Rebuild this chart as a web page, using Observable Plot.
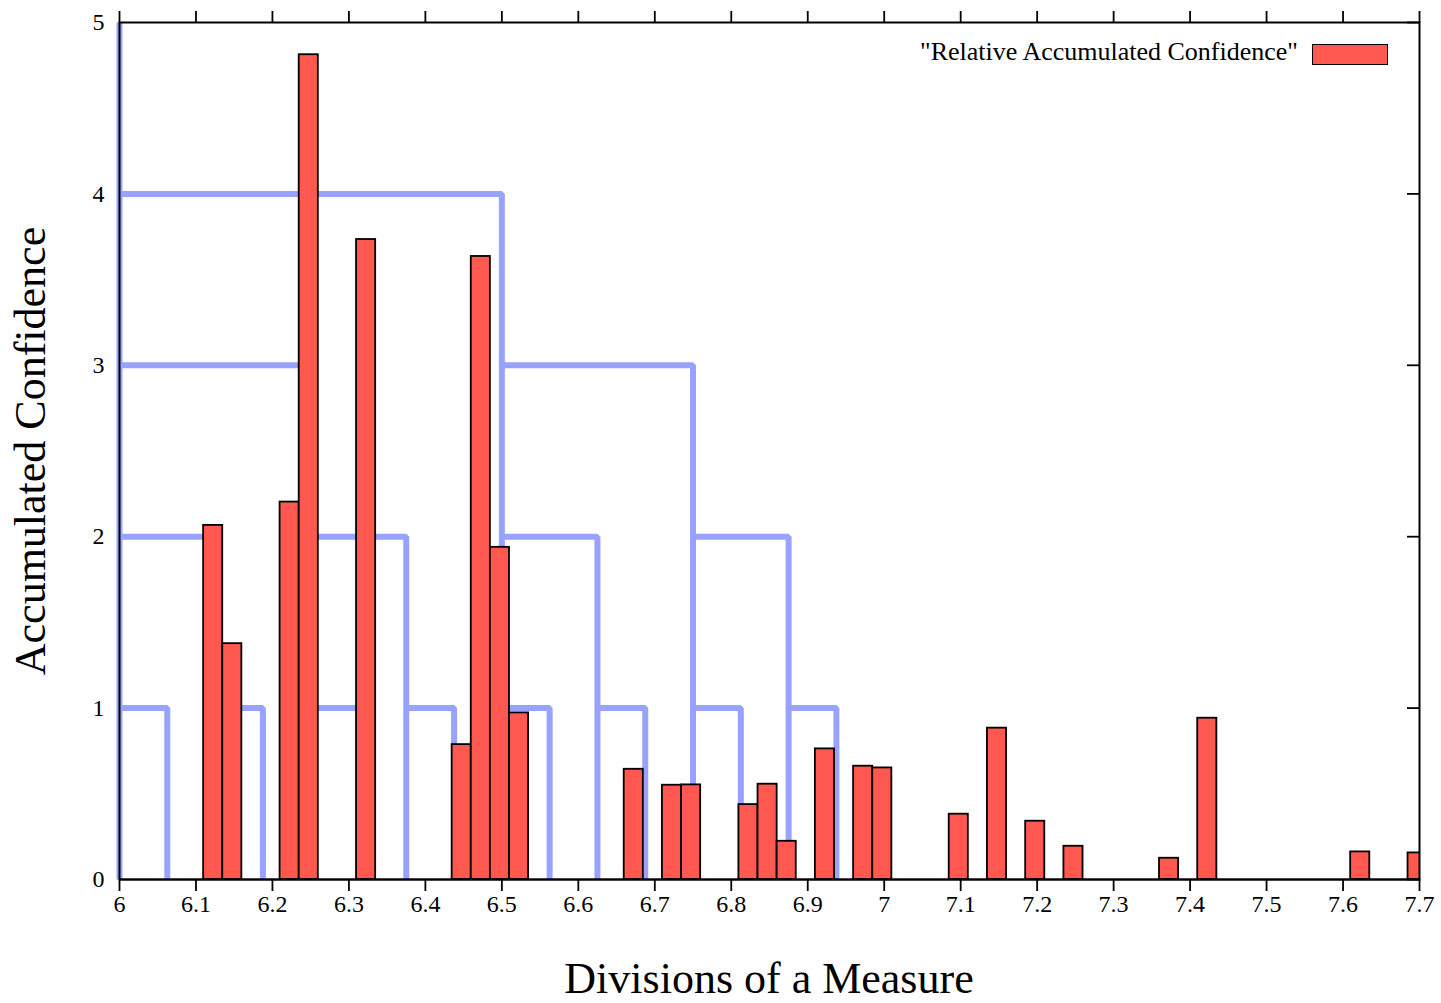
<!DOCTYPE html>
<html>
<head>
<meta charset="utf-8">
<script src="https://cdn.jsdelivr.net/npm/d3@7"></script>
<script src="https://cdn.jsdelivr.net/npm/@observablehq/plot@0.6"></script>
<style>
  body { margin: 0; background: #fff; }
  #wrap { position: relative; width: 1441px; height: 1003px; font-family: "Liberation Serif", "Times New Roman", serif; color: #000; overflow: hidden; }
  #wrap svg { position: absolute; left: 0; top: 0; }
  .lbl { position: absolute; white-space: nowrap; }
</style>
</head>
<body>
<div id="wrap"></div>
<script>
// ---- data ----
const binStart = [6.11, 6.135, 6.21, 6.235, 6.31, 6.435, 6.46, 6.485, 6.51, 6.66, 6.71, 6.735, 6.81, 6.835, 6.86, 6.91, 6.96, 6.985, 7.085, 7.135, 7.185, 7.235, 7.36, 7.41, 7.61, 7.685];
const confidence = [2.066, 1.376, 2.202, 4.812, 3.734, 0.787, 3.635, 1.938, 0.972, 0.643, 0.550, 0.552, 0.437, 0.556, 0.223, 0.762, 0.661, 0.651, 0.381, 0.883, 0.340, 0.194, 0.124, 0.941, 0.161, 0.155];
const binWidth = 0.025;

// metrical grid levels (blue)
const levelValue = [5, 4, 3, 3, 2, 2, 2, 2, 1, 1, 1, 1, 1, 1, 1, 1];
const levelStart = [6, 6, 6, 6.5, 6, 6.25, 6.5, 6.75, 6, 6.125, 6.25, 6.375, 6.5, 6.625, 6.75, 6.875];
const levelEnd   = [6, 6.5, 6.25, 6.75, 6.125, 6.375, 6.625, 6.875, 6.0625, 6.1875, 6.3125, 6.4375, 6.5625, 6.6875, 6.8125, 6.9375];

const xTicks = [6, 6.1, 6.2, 6.3, 6.4, 6.5, 6.6, 6.7, 6.8, 6.9, 7, 7.1, 7.2, 7.3, 7.4, 7.5, 7.6, 7.7];
const yTicks = [0, 1, 2, 3, 4, 5];
const xLabel = "Divisions of a Measure";
const yLabel = "Accumulated Confidence";
const legendLabel = "\"Relative Accumulated Confidence\"";

const barColor = "#ff5850";
const gridColor = "#98a2ff";

// ---- tables ----
const bars = binStart.map((x, i) => ({x1: x, x2: x + binWidth, y: confidence[i]}));
const blue = levelValue.flatMap((v, i) => [
  {id: i, x: levelStart[i], y: v},
  {id: i, x: levelEnd[i], y: v},
  {id: i, x: levelEnd[i], y: 0}
]);

const chart = Plot.plot({
  width: 1441,
  height: 1003,
  marginLeft: 119,
  marginRight: 22,
  marginTop: 22,
  marginBottom: 124,
  style: {fontFamily: "Liberation Serif, Times New Roman, serif", background: "white", color: "black"},
  x: {domain: [6, 7.7]},
  y: {domain: [0, 5]},
  marks: [
    Plot.line(blue, {x: "x", y: "y", z: "id", stroke: gridColor, strokeWidth: 6, strokeLinejoin: "miter", strokeLinecap: "butt"}),
    Plot.rect(bars, {x1: "x1", x2: "x2", y1: 0, y2: "y", fill: barColor, stroke: "black", strokeWidth: 1.8, clip: true}),
    Plot.ruleY([0], {stroke: "#3a0c09", strokeWidth: 2}),
    Plot.frame({stroke: "black", strokeWidth: 2}),
    Plot.axisX(xTicks, {anchor: "bottom", tickSize: 12, tickPadding: 3, strokeWidth: 1.8, fontSize: 24, tickFormat: d => String(d), label: null}),
    Plot.axisX(xTicks, {anchor: "top", tickSize: 12, strokeWidth: 1.8, tickFormat: () => "", label: null}),
    Plot.axisY(yTicks, {anchor: "left", tickSize: 0, tickPadding: 15, fontSize: 24, tickFormat: d => String(d), label: null}),
    Plot.axisY(yTicks, {anchor: "right", tickSize: 13, dx: -13, strokeWidth: 1.8, tickFormat: () => "", label: null})
  ]
});

const wrap = document.getElementById("wrap");
wrap.appendChild(chart);

function addLabel(text, css) {
  const d = document.createElement("div");
  d.className = "lbl";
  d.textContent = text;
  Object.assign(d.style, css);
  wrap.appendChild(d);
  return d;
}
// x axis title
addLabel(xLabel, {left: "119px", width: "1300px", textAlign: "center", top: "957px", fontSize: "44px", lineHeight: "44px"});
// y axis title (rotated)
addLabel(yLabel, {left: (31 - 300) + "px", width: "600px", top: (451 - 22) + "px", textAlign: "center", fontSize: "44px", lineHeight: "44px", transform: "rotate(-90deg)", transformOrigin: "50% 50%"});
// legend
addLabel(legendLabel, {right: (1441 - 1298) + "px", top: "39px", fontSize: "26px", lineHeight: "26px"});
const sw = document.createElement("div");
Object.assign(sw.style, {position: "absolute", left: "1312px", top: "44px", width: "76px", height: "21px", background: barColor, border: "1.6px solid black", boxSizing: "border-box"});
wrap.appendChild(sw);
</script>
</body>
</html>
